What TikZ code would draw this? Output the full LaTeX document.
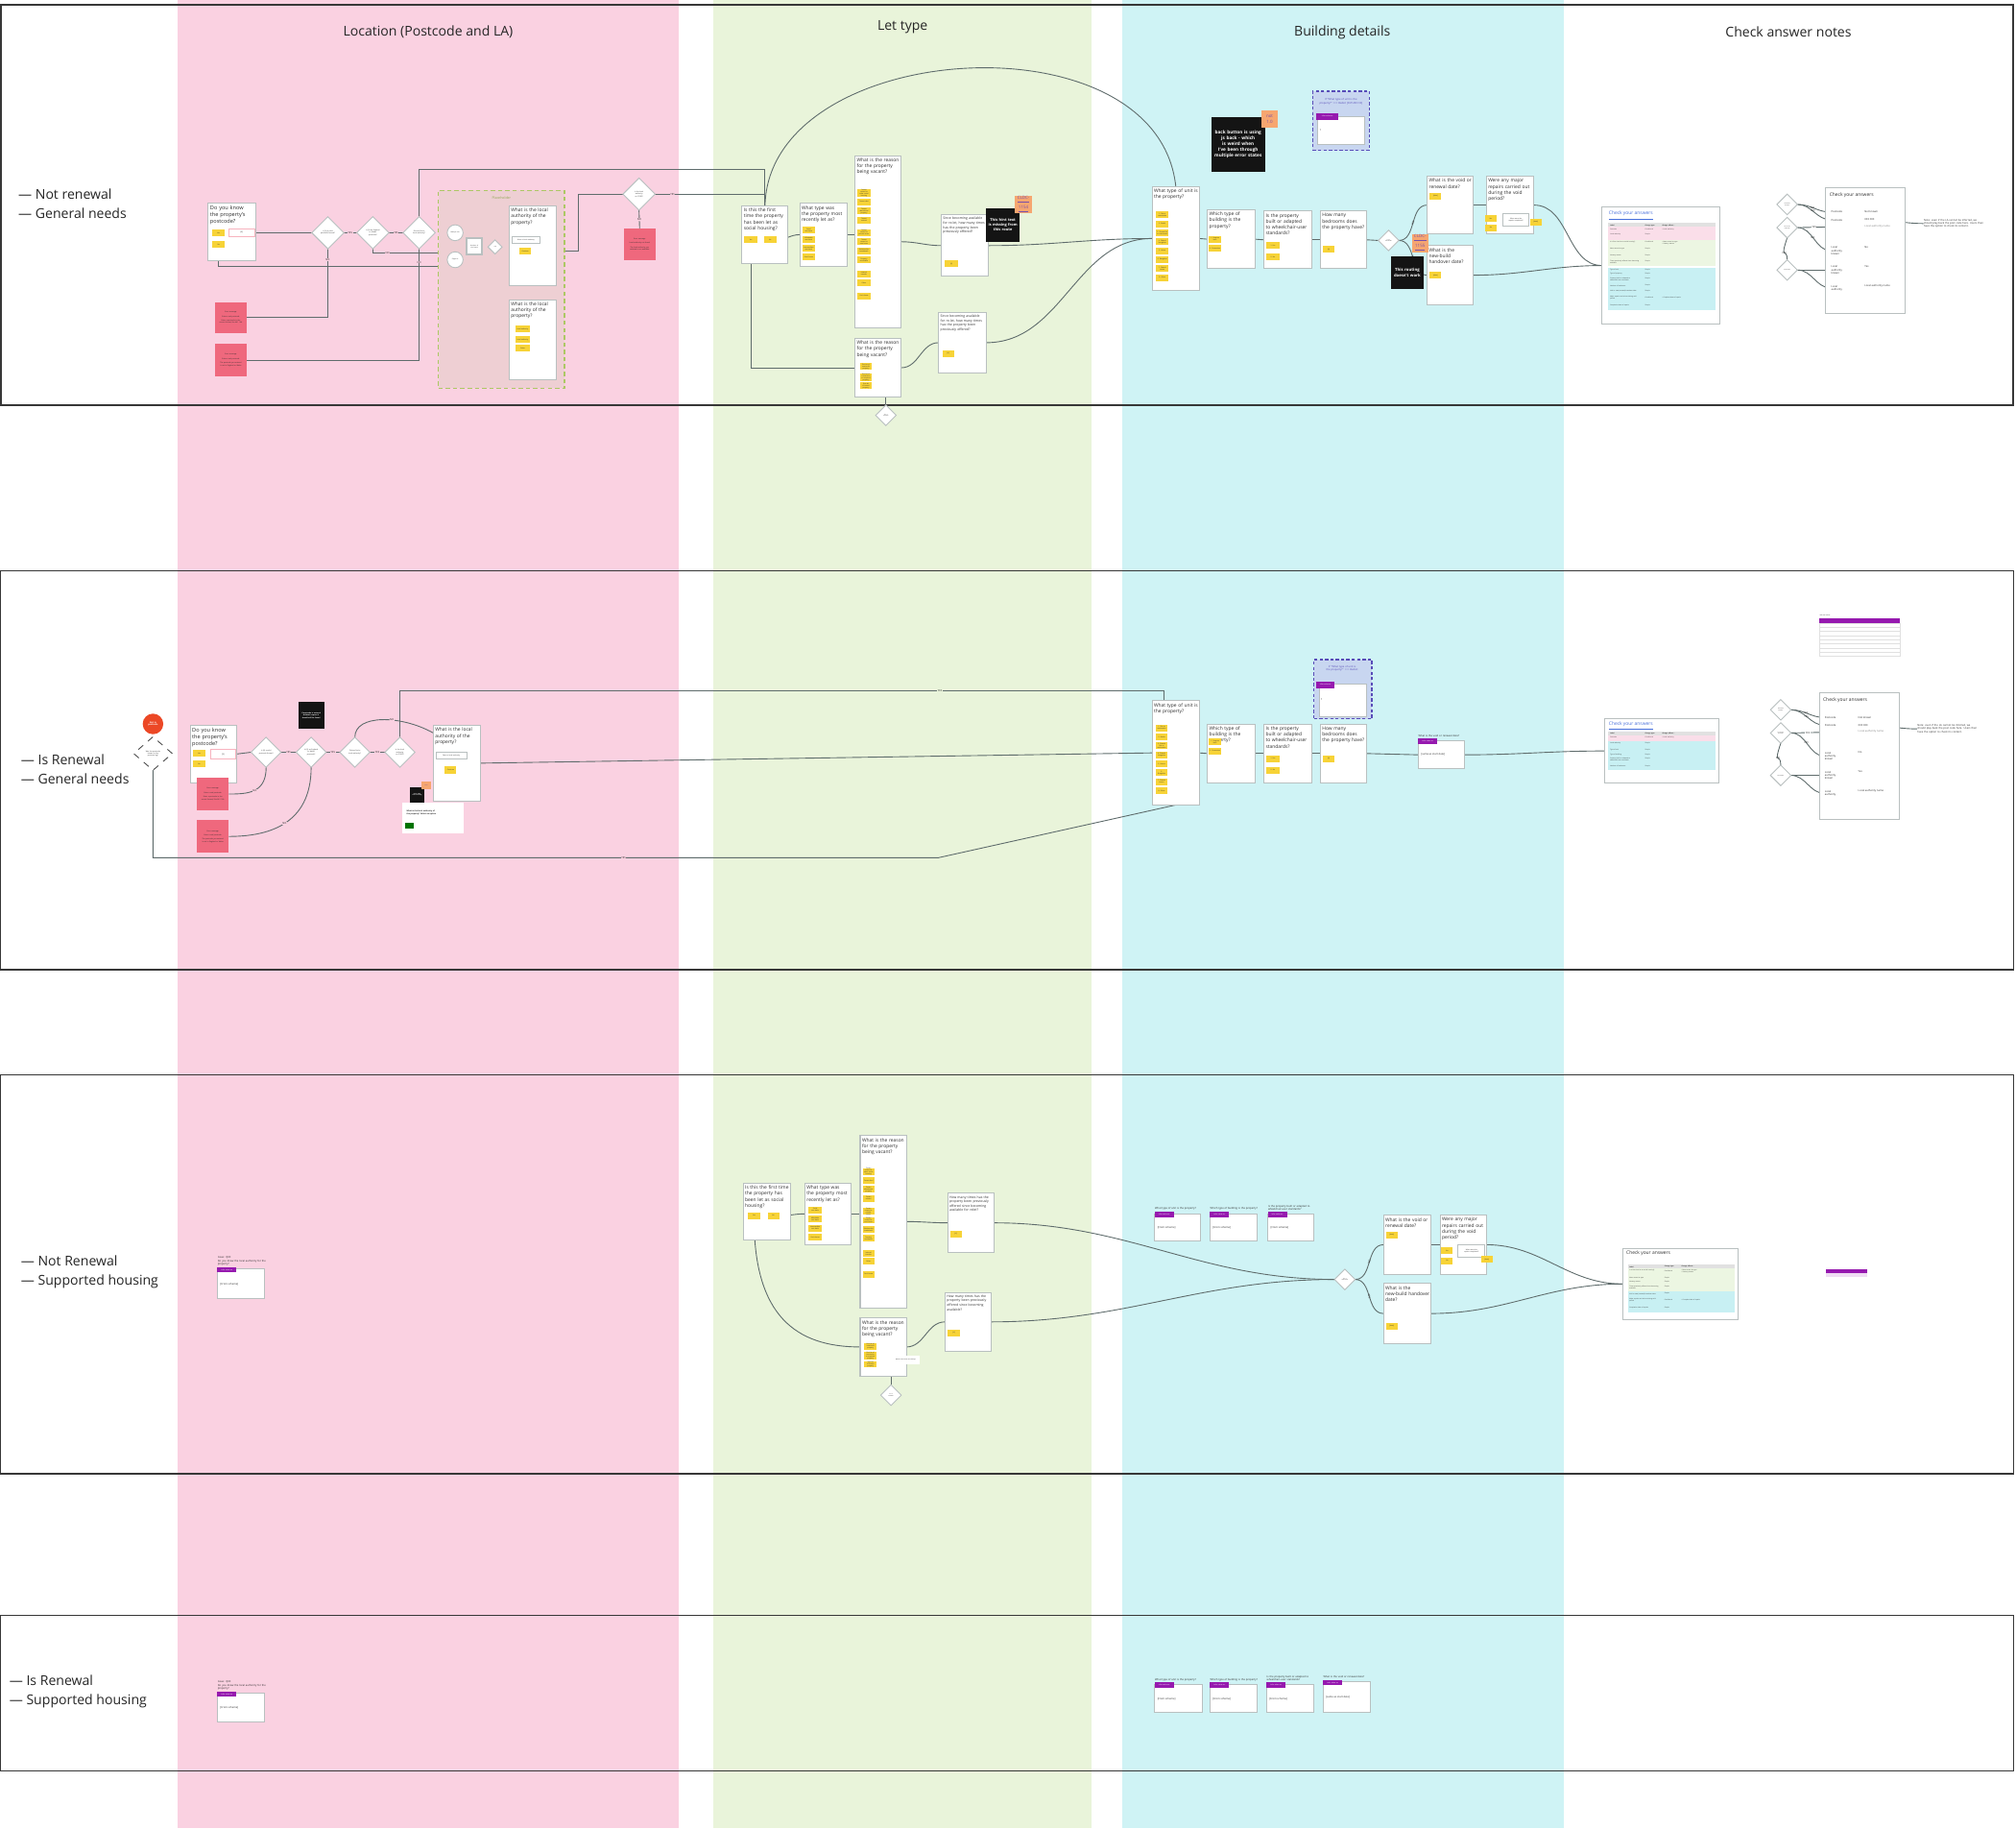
\documentclass[tikz,border=0pt]{standalone}
\usepackage{fontspec}
\setmainfont{Open Sans}
\usetikzlibrary{shapes.geometric,calc}
\hyphenpenalty=10000
\exhyphenpenalty=10000
\definecolor{pinkbg}{RGB}{250,209,225}
\definecolor{greenbg}{RGB}{233,244,218}
\definecolor{cyanbg}{RGB}{207,243,245}
\definecolor{phfill}{RGB}{238,207,211}
\definecolor{phdash}{RGB}{172,200,100}
\definecolor{stky}{RGB}{247,211,55}
\definecolor{stkr}{RGB}{239,104,125}
\definecolor{stko}{RGB}{246,166,112}
\definecolor{stkb}{RGB}{20,20,20}
\definecolor{purp}{RGB}{150,25,175}
\definecolor{ppfill}{RGB}{200,214,240}
\definecolor{ppdash}{RGB}{88,76,184}
\definecolor{boxg}{RGB}{185,192,192}
\definecolor{lineg}{RGB}{95,108,108}
\definecolor{framec}{RGB}{55,55,55}
\definecolor{txt}{RGB}{45,45,45}
\definecolor{cyablue}{RGB}{70,110,220}
\definecolor{tpink}{RGB}{250,222,233}
\definecolor{tgreen}{RGB}{236,246,226}
\definecolor{tcyan}{RGB}{200,240,243}
\definecolor{thead}{RGB}{225,225,225}
\definecolor{startred}{RGB}{236,72,38}
\definecolor{cldc}{RGB}{120,80,170}
\pgfdeclarelayer{back}
\pgfdeclarelayer{lines}
\pgfsetlayers{back,lines,main}
\tikzset{
  qboxs/.style={draw=boxg, fill=white, line width=0.45pt},
  qtext/.style={inner sep=0pt, outer sep=0pt, align=left, text=txt, font=\fontsize{2.2}{2.8}\selectfont},
  smallq/.style={font=\fontsize{1.55}{2.05}\selectfont},
  stkY/.style={fill=stky, text=txt, font=\fontsize{0.75}{0.9}\selectfont},
  redstk/.style={fill=stkr, text=txt, font=\fontsize{0.8}{1.0}\selectfont},
  blkstk/.style={fill=stkb, text=white, font=\fontsize{2.1}{2.7}\selectfont\bfseries},
  orgstk/.style={fill=stko, text=cldc, font=\fontsize{2}{2.6}\selectfont},
  inp/.style={fill=white, draw=stkr!50, line width=0.3pt, text=txt, font=\fontsize{0.9}{1}\selectfont},
  inpg/.style={fill=white, draw=boxg, line width=0.4pt, text=txt, font=\fontsize{0.75}{0.9}\selectfont},
  dia/.style={diamond, draw=boxg, fill=white, line width=0.4pt, inner sep=0pt, outer sep=0pt, minimum width=15pt, minimum height=15pt, text width=7pt, align=center, text=txt, font=\fontsize{0.8}{1}\selectfont},
  sdia/.style={dia, minimum width=9.6pt, minimum height=9.6pt, text width=4pt, font=\fontsize{0.6}{0.75}\selectfont},
  circs/.style={circle, draw=boxg, fill=white, line width=0.4pt, inner sep=0pt, minimum size=7.4pt, text width=5pt, align=center, text=txt, font=\fontsize{0.7}{0.85}\selectfont},
  conn/.style={draw=lineg, line width=0.4pt},
  lbl/.style={inner sep=0.2pt, text=txt, font=\fontsize{1.2}{1.4}\selectfont},
  hdr/.style={inner sep=0pt, text=black!85, font=\fontsize{6.3}{8}\selectfont},
  rowl/.style={inner sep=0pt, anchor=west, align=left, text=black!85, font=\fontsize{6.3}{9}\selectfont},
  rowframe/.style={draw=framec, line width=0.6pt},
  ptag/.style={fill=purp, text=white, font=\fontsize{0.8}{0.9}\selectfont},
  tinyt/.style={inner sep=0pt, text=txt, align=left, font=\fontsize{1.2}{1.5}\selectfont},
  tbt/.style={inner sep=0pt, text=txt, align=left, font=\fontsize{0.7}{0.85}\selectfont},
  cyr/.style={inner sep=0pt, anchor=west, align=left, text=txt, font=\fontsize{1.2}{1.5}\selectfont},
  cyat/.style={inner sep=0pt, text=cyablue, font=\fontsize{2.2}{2.6}\selectfont},
}
% generic rectangle: [style]{name}{x1}{y1}{x2}{y2}{text}
\newcommand\mrb[7][]{%
  \pgfmathsetmacro\zzw{(#5-#3)*0.6}%
  \pgfmathsetmacro\zzh{(#6-#4)*0.6}%
  \pgfmathsetmacro\zzt{max((#5-#3)*0.6-1,0.5)}%
  \node[inner sep=0pt, outer sep=0pt, anchor=north west, minimum width=\zzw pt, minimum height=\zzh pt, text width=\zzt pt, align=center, #1] (#2) at (#3,#4) {#7};}
% question box with top-left text
\newcommand\mqb[7][]{%
  \mrb[qboxs]{#2}{#3}{#4}{#5}{#6}{}%
  \pgfmathsetmacro\zzqt{(#5-#3-2.5)*0.6}%
  \pgfmathsetmacro\zzqx{#3+1.5}\pgfmathsetmacro\zzqy{#4+2}%
  \node[qtext, #1, anchor=north west, text width=\zzqt pt] (#2t) at (\zzqx,\zzqy) {#7};}
% sticky: {name}{x1}{ycentre}{x2}{text}
\newcommand\mstk[5]{%
  \pgfmathsetmacro\zzsa{#3-2.6}\pgfmathsetmacro\zzsb{#3+2.6}%
  \mrb[stkY]{#1}{#2}{\zzsa}{#4}{\zzsb}{#5}}
% table row
\newcommand\mtrow[9]{%
  \mrb[fill=#6]{#1}{#2}{#3}{#4}{#5}{}%
  \pgfmathsetmacro\zzca{#2+1}%
  \pgfmathsetmacro\zzcb{#2+0.34*(#4-#2)}%
  \pgfmathsetmacro\zzcc{#2+0.5*(#4-#2)}%
  \pgfmathsetmacro\zzcy{#3+0.5}%
  \node[tbt, text width=14pt, anchor=north west] (#1a) at (\zzca,\zzcy) {#7};%
  \node[tbt, text width=6pt, anchor=north west] (#1b) at (\zzcb,\zzcy) {#8};%
  \node[tbt, text width=19pt, anchor=north west] (#1c) at (\zzcc,\zzcy) {#9};}
% inferred value box
\newcommand\minfer[7]{%
  \mrb[qboxs]{#1}{#2}{#3}{#4}{#5}{}%
  \pgfmathsetmacro\zzA{#3-1.5}\pgfmathsetmacro\zzB{#3+2.5}\pgfmathsetmacro\zzC{#2+15}%
  \mrb[ptag]{#1g}{#2}{\zzA}{\zzC}{\zzB}{Infer value as:}%
  \pgfmathsetmacro\zzD{#3-2.5}\pgfmathsetmacro\zzE{#2+2}\pgfmathsetmacro\zzF{(#3+#5)/2}%
  \node[tinyt, anchor=south west, text width=24pt] (#1l) at (#2,\zzD) {#6};%
  \node[tinyt, anchor=west] (#1v) at (\zzE,\zzF) {#7};}
% second check-your-answers block
\newcommand\mcheck[3]{%
\begin{scope}[shift={(#2,#3)}]
  \mrb[qboxs]{#1box}{1420}{146}{1482}{244}{}
  \node[qtext, anchor=north west] (#1tt) at (1423,150) {Check your answers};
  \node[cyr] (#1k1) at (1424,165) {Postcode};
  \node[cyr] (#1v1) at (1450,165) {Not known};
  \node[cyr] (#1k2) at (1424,171) {Postcode};
  \node[cyr] (#1v2) at (1450,171) {XXX XXX};
  \node[cyr, text=txt!60] (#1v3) at (1450,176) {Local authority name};
  \node[cyr] (#1k4) at (1424,195) {Local\\authority\\known};
  \node[cyr] (#1v4) at (1450,192) {No};
  \node[cyr] (#1k5) at (1424,210) {Local\\authority\\known};
  \node[cyr] (#1v5) at (1450,207) {Yes};
  \node[cyr] (#1k6) at (1424,224) {Local\\authority};
  \node[cyr] (#1v6) at (1450,222) {Local authority name};
  \node[cyr, anchor=north west, text width=28pt] (#1nt) at (1496,170) {Note: even if the LA cannot be inferred, we should play back the post code here. Users then have the option to check its content.};
  \node[sdia] (#1q1) at (1390,159) {Postcode known?};
  \node[sdia] (#1q2) at (1390,177) {LA can be inferred?};
  \node[sdia] (#1q3) at (1390,210) {LA known?};
  \begin{pgfonlayer}{lines}
  \draw[conn] (#1q1.east) to[out=0,in=180] node[lbl,pos=0.45] (#1l1) {NO} (#1k1.west);
  \draw[conn] (#1q1.east) to[out=0,in=180] node[lbl,pos=0.45] (#1l2) {YES} (#1k2.west);
  \draw[conn] (#1q2.east) -- node[lbl,fill=white,pos=0.25] (#1l3) {YES} (#1v3.west);
  \draw[conn] (#1q2.east) to[out=0,in=180] node[lbl,pos=0.45] (#1l4) {NO} (#1k4.west);
  \draw[conn] (#1q2.south) .. controls ($(#1q2.south)+(-6,18)$) and ($(#1q3.north)+(0,-10)$) .. node[lbl,pos=0.5] (#1l5) {NO} (#1q3.north);
  \draw[conn] (#1q3.east) to[out=0,in=180] (#1k5.west);
  \draw[conn] (#1q3.east) to[out=0,in=180] (#1k6.west);
  \draw[conn] (#1v2.east) to[out=0,in=180] (#1nt.west);
  \end{pgfonlayer}
\end{scope}}
\begin{document}
\begin{tikzpicture}[x=0.6pt,y=-0.6pt]
\useasboundingbox (0,0) rectangle (1568,1422);
\begin{pgfonlayer}{back}
\fill[white] (0,0) rectangle (1568,1422);
\fill[pinkbg] (138,0) rectangle (528,1422);
\fill[greenbg] (555,0) rectangle (849,1422);
\fill[cyanbg] (873,0) rectangle (1216,1422);
\draw[rowframe, line width=0.9pt] (0.6,4) rectangle (1566,315);
\draw[rowframe] (0.6,444) rectangle (1566,754);
\draw[rowframe] (0.6,836) rectangle (1566,1146);
\draw[rowframe] (0.6,1256) rectangle (1566,1377);
\end{pgfonlayer}

% headers and row labels
\node[hdr] (h1) at (333,25) {Location (Postcode and LA)};
\node[hdr] (h2) at (702,21) {Let type};
\node[hdr] (h3) at (1044,25) {Building details};
\node[hdr] (h4) at (1391,25) {Check answer notes};
\node[rowl] (l1) at (14,158.5) {— Not renewal\\— General needs};
\node[rowl] (l2) at (16,598) {— Is Renewal\\— General needs};
\node[rowl] (l3) at (16,989.5) {— Not Renewal\\— Supported housing};
\node[rowl] (l4) at (7,1315.5) {— Is Renewal\\— Supported housing};

%================ ROW 1 =================
\mrb[draw=phdash, fill=phfill, line width=0.5pt, dash pattern=on 2pt off 1.4pt]{r1ph}{341}{148}{439}{302}{}
\node[inner sep=0pt, text=phdash!85!black, font=\fontsize{1.6}{2}\selectfont] (r1phl) at (390,154) {Placeholder};
\mqb[font=\fontsize{2.5}{3.1}\selectfont]{r1pc}{162}{158}{199}{203}{Do you know the property's postcode?}
\mstk{r1pcY}{165}{181}{175}{Yes}
\mrb[inp]{r1pcX}{178}{178}{198}{184}{[X]}
\mstk{r1pcN}{165}{190}{175}{No}
\node[dia] (r1d1) at (255,181) {Is [X] a valid postcode format?};
\node[dia] (r1d2) at (290,181) {Is [X] an England or Wales postcode?};
\node[dia] (r1d3) at (326,181) {Did we find a local authority?};
\mrb[redstk]{r1e1}{167}{235}{192}{259}{Error message\\[1pt]Enter a real postcode\\[1pt]Enter a postcode in the correct format, like AA1 1AA}
\mrb[redstk]{r1e2}{167}{267}{192}{293}{Error message\\[1pt]Enter a real postcode\\[1pt]The postcode you entered is not in England or Wales}
\node[circs] (r1c1) at (354,181) {Multiple LAs};
\node[circs] (r1c2) at (354,202) {Single LA};
\mrb[draw=boxg, fill=white, line width=0.8pt, text=txt, font=\fontsize{0.7}{0.85}\selectfont]{r1sr}{363}{185}{375}{198}{Number of LAs found}
\node[dia, minimum width=6.6pt, minimum height=6.6pt, text width=3pt, font=\fontsize{0.6}{0.7}\selectfont] (r1d4) at (385,192) {1 LA?};
\mqb{r1la1}{396}{160}{433}{222}{What is the local authority of the property?}
\mrb[inpg]{r1la1i}{398}{184}{420}{189}{Select a local authority}
\mrb[stkY]{r1la1c}{404}{193}{413}{198}{Continue}
\mqb{r1la2}{396}{233}{433}{295}{What is the local authority of the property?}
\mstk{r1la2a}{401}{256}{412}{Local authority}
\mstk{r1la2b}{401}{264}{412}{Local authority}
\mstk{r1la2c}{401}{271}{412}{Other}
\node[dia] (r1d5) at (497,151) {Is the local authority on CORE?};
\mrb[redstk]{r1e3}{485}{178}{510}{202}{Error message\\[1pt]Local authority not found\\[1pt]The local authority you selected is not available}

\mqb{r1ft}{577}{160}{613}{205}{Is this the first time the property has been let as social housing?}
\mstk{r1ftY}{579}{186.5}{589}{Yes}
\mstk{r1ftN}{594}{186.5}{604}{No}
\mqb{r1rl}{622}{158}{659}{207}{What type was the property most recently let as?}
\foreach \yc/\lt [count=\i] in {179/Social rent basis,186/Affordable rent basis,193/Intermediate rent basis,200/Don't know} {\mstk{r1rls\i}{624}{\yc}{634}{\lt}}
\mqb{r1rv}{665}{121}{701}{255}{What is the reason for the property being vacant?}
\foreach \yc/\lt [count=\i] in {150/Tenant moved to other social housing,157/Tenant died,164/Tenant abandoned property,171/Tenant evicted,181/Tenant moved to private sector,188/Tenant moved to care home,195/Relationship breakdown,202/Property unsuitable,213/Internal transfer,220/Other,230/Don't know} {\mstk{r1rvs\i}{667}{\yc}{677}{\lt}}
\mqb[smallq]{r1of}{732}{167}{769}{215}{Since becoming available for re-let, how many times has the property been previously offered?}
\mstk{r1ofX}{735}{205}{745}{[X]}
\mrb[blkstk, font=\fontsize{1.75}{2.3}\selectfont\bfseries]{r1bk1}{767}{162}{793}{188}{This hint text is missing from this route}
\mrb[orgstk]{r1or1}{789}{152}{803}{166}{\underline{CLDC-}\\\underline{1154}}
\mqb{r1rv2}{665}{263}{701}{309}{What is the reason for the property being vacant?}
\mstk{r1rv2s1}{669}{285}{678}{First let of new-build property}
\mstk{r1rv2s2}{669}{293}{678}{First let of conversion or acquired property}
\mstk{r1rv2s3}{669}{300}{678}{First let of leased property}
\mqb[smallq]{r1of2}{730}{243}{767}{290}{Since becoming available for re-let, how many times has the property been previously offered?}
\mstk{r1of2X}{733}{275}{742}{[X]}
\node[sdia] (r1d6) at (689,323) {Is it a renewal?};

\mqb{r1ut}{896}{145}{933}{226}{What type of unit is the property?}
\foreach \yc/\lt [count=\i] in {167/1. Flat or maisonette,174/2. Bedsit,181/3. Shared flat or maisonette,188/4. Shared bungalow,195/5. House,202/6. Bungalow,209/7. Shared house,216/8. Other} {\mstk{r1uts\i}{899}{\yc}{909}{\lt}}
\mqb{r1bt}{939}{163}{976}{209}{Which type of building is the property?}
\mstk{r1bts1}{940}{186}{950}{1. Purpose built}
\mstk{r1bts2}{940}{193}{950}{2. Conversion}
\mqb{r1wc}{983}{164}{1020}{209}{Is the property built or adapted to wheelchair-user standards?}
\mstk{r1wcs1}{985}{191}{995}{1. Yes}
\mstk{r1wcs2}{985}{200}{995}{2. No}
\mqb{r1bd}{1027}{164}{1063}{209}{How many bedrooms does the property have?}
\mstk{r1bds1}{1029}{194}{1038}{[X]}
\node[sdia] (r1d7) at (1080,187) {Is it a new-build?};
\mqb{r1vd}{1110}{137}{1146}{182}{What is the void or renewal date?}
\mstk{r1vds}{1112}{152.5}{1121}{[date]}
\mqb{r1mr}{1156}{137}{1193}{182}{Were any major repairs carried out during the void period?}
\mstk{r1mrY}{1155}{170}{1164}{Yes}
\mstk{r1mrN}{1155}{177}{1164}{No}
\mrb[inpg]{r1mrq}{1169}{166}{1189}{176}{When were the repairs completed?}
\mstk{r1mrd}{1190}{172.5}{1199}{[date]}
\mqb{r1nb}{1110}{191}{1146}{237}{What is the new-build handover date?}
\mstk{r1nbs}{1112}{214}{1121}{[date]}
\mrb[blkstk]{r1bk2}{942}{91}{984}{134}{back button is using js back - which is weird when I've been through multiple error states}
\mrb[orgstk]{r1or2}{981}{86}{994}{99}{not\\1.0}
\mrb[draw=ppdash, fill=ppfill, line width=0.6pt, dash pattern=on 1.5pt off 1pt]{r1pp}{1021}{71}{1065}{117}{}
\node[inner sep=0pt, text width=24pt, align=center, text=ppdash, font=\fontsize{1.2}{1.6}\selectfont] (r1ppt) at (1043,79) {If ``What type of unit is the property?'' === Bedsit [FUTURE FIX]};
\mrb[inpg]{r1ppb}{1025}{91}{1061}{112}{}
\mrb[ptag]{r1ppg}{1024}{88}{1041}{93}{Infer value as:}
\node[tinyt] (r1pp1) at (1027,101) {1};
\mrb[blkstk, font=\fontsize{1.9}{2.5}\selectfont\bfseries]{r1bk3}{1082}{199}{1107}{225}{This routing doesn't work}
\mrb[orgstk]{r1or3}{1098}{182}{1111}{196}{\underline{CLDC-}\\\underline{1155}}

\mrb[qboxs]{r1cya}{1246}{161}{1338}{252}{}
\node[cyat, anchor=north west] (r1cyat) at (1251,164) {\underline{Check your answers}};
\mtrow{r1th}{1251}{173.5}{1334}{176.5}{thead}{\textbf{Label}}{\textbf{Change type}}{\textbf{Change affects...}}
\mtrow{r1ta}{1251}{176.5}{1334}{180.7}{tpink}{Postcode}{Conditional}{• Local authority}
\mtrow{r1tb}{1251}{180.7}{1334}{186.7}{tpink}{Local authority}{Simple}{}
\mtrow{r1tc}{1251}{186.7}{1334}{192}{tgreen}{Is it first time let as social housing?}{Conditional}{• Most recent let type\\• Vacancy reason}
\mtrow{r1td}{1251}{192}{1334}{197}{tgreen}{Most recent let type}{Simple}{}
\mtrow{r1te}{1251}{197}{1334}{201.5}{tgreen}{Vacancy reason}{Simple}{}
\mtrow{r1tf}{1251}{201.5}{1334}{206.6}{tgreen}{Times previously offered since becoming available}{Simple}{}
\mtrow{r1tg}{1251}{208.4}{1334}{211.5}{tcyan}{Type of unit}{Simple}{}
\mtrow{r1ti}{1251}{211.5}{1334}{215}{tcyan}{Type of property}{Simple}{}
\mtrow{r1tj}{1251}{215}{1334}{220.5}{tcyan}{Property built or adapted to wheelchair-user standards}{Simple}{}
\mtrow{r1tk}{1251}{220.5}{1334}{224.5}{tcyan}{Number of bedrooms}{Simple}{}
\mtrow{r1tl}{1251}{224.5}{1334}{229.5}{tcyan}{Void or new (renewal) handover date}{Simple}{}
\mtrow{r1tm}{1251}{229.5}{1334}{235.5}{tcyan}{Major repairs carried out during void period}{Conditional}{• Complete date of repairs}
\mtrow{r1tn}{1251}{235.5}{1334}{241.2}{tcyan}{Completion date of repairs}{Simple}{}
\mcheck{r1c}{0}{0}

%================ ROW 2 =================
\node[circle, fill=startred, inner sep=0pt, minimum size=9.6pt, text width=6pt, align=center, text=white, font=\fontsize{1}{1.2}\selectfont\bfseries] (r2st) at (119,563) {Not in postcode};
\node[dia, dashed, draw=black!70, minimum width=18pt, minimum height=15.6pt, text width=8pt] (r2dd) at (119,586) {Was the postcode known in the previous log?};
\mqb[font=\fontsize{2.5}{3.1}\selectfont]{r2pc}{148}{564}{184}{609}{Do you know the property's postcode?}
\mstk{r2pcY}{150}{586}{160}{Yes}
\mrb[inp]{r2pcX}{164}{583}{183}{590}{[X]}
\mstk{r2pcN}{150}{594}{160}{No}
\mrb[redstk]{r2e1}{153}{605}{178}{630}{Error message\\[1pt]Enter a real postcode\\[1pt]Enter a postcode in the correct format, like AA1 1AA}
\mrb[redstk]{r2e2}{153}{638}{178}{663}{Error message\\[1pt]Enter a real postcode\\[1pt]The postcode you entered is not in England or Wales}
\node[dia, minimum width=14pt, minimum height=14pt] (r2d1) at (207,585) {Is [X] a valid postcode format?};
\node[dia, minimum width=14pt, minimum height=14pt] (r2d2) at (242,585) {Is [X] an England or Wales postcode?};
\node[dia, minimum width=14pt, minimum height=14pt] (r2d3) at (276,585) {Did we find a local authority?};
\node[dia, minimum width=14pt, minimum height=14pt] (r2d4) at (311,585) {Is the local authority on CORE?};
\mrb[blkstk, font=\fontsize{0.8}{1}\selectfont\bfseries]{r2bk1}{232}{546}{252}{567}{If postcode is entered without a space it should still be found}
\mqb{r2la}{337}{564}{374}{623}{What is the local authority of the property?}
\mrb[inpg]{r2lai}{339}{585}{363}{590}{Select a local authority}
\mrb[stkY]{r2lac}{346}{596}{355}{602}{Continue}
\mrb[fill=white]{r2ss}{313}{624}{361}{648}{}
\node[tinyt, anchor=north west, font=\fontsize{0.9}{1.1}\selectfont\bfseries] (r2sst) at (316,630) {What is the local authority of\\the property? Select an option};
\mrb[fill=green!45!black]{r2ssb}{315}{640}{322}{644}{}
\mrb[blkstk, font=\fontsize{0.6}{0.75}\selectfont\bfseries]{r2bk2}{319}{612}{330}{624}{Error state text is missing}
\mrb[orgstk, font=\fontsize{0.6}{0.75}\selectfont]{r2or}{328}{608}{335}{614}{CLDC}

\mqb{r2ut}{896}{545}{933}{626}{What type of unit is the property?}
\foreach \yc/\lt [count=\i] in {566/1. Flat or maisonette,573/2. Bedsit,580/3. Shared flat or maisonette,587/4. Shared bungalow,594/5. House,601/6. Bungalow,608/7. Shared house,615/8. Other} {\mstk{r2uts\i}{899}{\yc}{908}{\lt}}
\mqb{r2bt}{939}{563}{976}{609}{Which type of building is the property?}
\mstk{r2bts1}{940}{577}{950}{1. Purpose built}
\mstk{r2bts2}{940}{584}{950}{2. Conversion}
\mqb{r2wc}{983}{563}{1020}{609}{Is the property built or adapted to wheelchair-user standards?}
\mstk{r2wcs1}{985}{590}{995}{1. Yes}
\mstk{r2wcs2}{985}{599}{995}{2. No}
\mqb{r2bd}{1027}{563}{1063}{609}{How many bedrooms does the property have?}
\mstk{r2bds1}{1029}{590}{1038}{[X]}
\mrb[draw=ppdash, fill=ppfill, line width=0.6pt, dash pattern=on 1.5pt off 1pt]{r2pp}{1022}{513}{1067}{559}{}
\node[inner sep=0pt, text width=24pt, align=center, text=ppdash, font=\fontsize{1.2}{1.6}\selectfont] (r2ppt) at (1044,520) {If ``What type of unit is the property?'' === Bedsit:};
\mrb[inpg]{r2ppb}{1026}{532}{1063}{557}{}
\mrb[ptag]{r2ppg}{1024}{530}{1038}{535}{Infer value as:}
\node[tinyt] (r2pp1) at (1028,544) {1};
\minfer{r2vd}{1103}{576}{1139}{598}{What is the void or renewal date?}{[same as start date]}

\mrb[qboxs]{r2cya}{1248}{559}{1337}{609}{}
\node[cyat, anchor=north west] (r2cyat) at (1251,561) {\underline{Check your answers}};
\mtrow{r2th}{1251}{569}{1334}{572}{thead}{\textbf{Label}}{\textbf{Change type}}{\textbf{Change affects...}}
\mtrow{r2ta}{1251}{572}{1334}{576.5}{tpink}{Postcode}{Conditional}{• Local authority}
\mtrow{r2tb}{1251}{576.5}{1334}{581.5}{tcyan}{Local authority}{Simple}{}
\mtrow{r2tc}{1251}{581.5}{1334}{585}{tcyan}{Type of unit}{Simple}{}
\mtrow{r2td}{1251}{585}{1334}{588.5}{tcyan}{Type of building}{Simple}{}
\mtrow{r2te}{1251}{588.5}{1334}{594}{tcyan}{Property built or adapted to wheelchair-user standards}{Simple}{}
\mtrow{r2tf}{1251}{594}{1334}{599}{tcyan}{Number of bedrooms}{Simple}{}
\node[tinyt, font=\fontsize{0.7}{0.8}\selectfont, anchor=south west] (r2ptl) at (1415,480) {Inferred values};
\mrb[fill=purp]{r2pth}{1415}{481}{1478}{484.5}{}
\foreach \k in {1,...,8} {\pgfmathsetmacro\zzG{484.5+3.2*\k}\node[draw=black!12, line width=0.2pt, inner sep=0pt, minimum width=37.8pt, minimum height=1.92pt, anchor=north west] (r2ptr\k) at (1415,\zzG-3.2) {};}
\mcheck{r2c}{-5}{393}

%================ ROW 3 =================
\minfer{r3la}{169}{987}{206}{1010}{Issue: QXX\\Do you know the local authority for the property?}{[From scheme]}
\mqb{r3ft}{578}{920}{615}{964}{Is this the first time the property has been let as social housing?}
\mstk{r3ftY}{582}{945.5}{591}{Yes}
\mstk{r3ftN}{597}{945.5}{606}{No}
\mqb{r3rl}{626}{920}{662}{968}{What type was the property most recently let as?}
\foreach \yc/\lt [count=\i] in {941/Social rent basis,948/Affordable rent basis,955/Intermediate rent basis,962/Don't know} {\mstk{r3rls\i}{629}{\yc}{639}{\lt}}
\mqb{r3rv}{669}{883}{705}{1017}{What is the reason for the property being vacant?}
\foreach \yc/\lt [count=\i] in {911/Tenant moved to other social housing,918/Tenant died,925/Tenant abandoned property,932/Tenant evicted,942/Tenant moved to private sector,949/Tenant moved to care home,956/Relationship breakdown,963/Property unsuitable,975/Internal transfer,981/Other,991/Don't know} {\mstk{r3rvs\i}{671}{\yc}{680}{\lt}}
\mqb[smallq]{r3of}{737}{928}{773}{974}{How many times has the property been previously offered since becoming available for relet?}
\mstk{r3ofX}{739}{959.5}{748}{[X]}
\mqb{r3rv2}{669}{1025}{705}{1070}{What is the reason for the property being vacant?}
\mstk{r3rv2s1}{672}{1047}{682}{First let of new-build property}
\mstk{r3rv2s2}{672}{1054}{682}{First let of conversion or acquired property}
\mstk{r3rv2s3}{672}{1061}{682}{First let of leased property}
\mrb[fill=white, font=\fontsize{0.6}{0.7}\selectfont, text=black]{r3ss}{694}{1054}{715}{1061}{Which is the reason for vacancy?}
\mqb[smallq]{r3of2}{735}{1005}{771}{1051}{How many times has the property been previously offered since becoming available?}
\mstk{r3of2X}{737}{1036.5}{747}{[X]}
\node[sdia] (r3d6) at (693,1085) {Is it a renewal?};
\minfer{r3a}{898}{944}{934}{965}{What type of unit is the property?}{[From scheme]}
\minfer{r3b}{941}{944}{978}{965}{Which type of building is the property?}{[From scheme]}
\minfer{r3c}{986}{944}{1022}{965}{Is the property built or adapted to wheelchair-user standards?}{[From scheme]}
\node[sdia] (r3d7) at (1046,995) {Is it a new-build?};
\mqb{r3vd}{1076}{945}{1113}{991}{What is the void or renewal date?}
\mstk{r3vds}{1078}{960.5}{1087}{[date]}
\mqb{r3mr}{1120}{945}{1156}{991}{Were any major repairs carried out during the void period?}
\mstk{r3mrY}{1121}{972.5}{1130}{Yes}
\mstk{r3mrN}{1121}{980.5}{1130}{No}
\mrb[inpg]{r3mrq}{1134}{968}{1155}{978}{When were the repairs completed?}
\mstk{r3mrd}{1152}{979.5}{1161}{[date]}
\mqb{r3nb}{1076}{998}{1113}{1045}{What is the new-build handover date?}
\mstk{r3nbs}{1078}{1031.5}{1087}{[date]}
\mrb[qboxs]{r3cya}{1262}{971}{1352}{1026}{}
\node[qtext, anchor=north west] (r3cyat) at (1265,973) {Check your answers};
\mtrow{r3th}{1266}{983.5}{1349}{986.5}{thead}{\textbf{Label}}{\textbf{Change type}}{\textbf{Change affects...}}
\mtrow{r3ta}{1266}{986.5}{1349}{992}{tgreen}{Is it first time let as social housing?}{Conditional}{• Most recent let type\\• Vacancy reason}
\mtrow{r3tb}{1266}{992}{1349}{995.5}{tgreen}{Most recent let type}{Simple}{}
\mtrow{r3tc}{1266}{995.5}{1349}{999}{tgreen}{Vacancy reason}{Simple}{}
\mtrow{r3td}{1266}{999}{1349}{1004.5}{tgreen}{Times previously offered since becoming available}{Simple}{}
\mtrow{r3te}{1266}{1004.5}{1349}{1009}{tcyan}{Void or new (renewal) handover date}{Simple}{}
\mtrow{r3tf}{1266}{1009}{1349}{1015}{tcyan}{Major repairs carried out during void period}{Conditional}{• Complete date of repairs}
\mtrow{r3tg}{1266}{1015}{1349}{1021}{tcyan}{Completion date of repairs}{Simple}{}
\mrb[fill=purp]{r3pb}{1420}{987}{1452}{990}{}
\mrb[fill=purp!15]{r3pb2}{1420}{990}{1452}{993}{}

%================ ROW 4 =================
\minfer{r4la}{169}{1317}{206}{1339}{Issue: QXX\\Do you know the local authority for the property?}{[From scheme]}
\minfer{r4a}{898}{1310}{935}{1332}{What type of unit is the property?}{[From scheme]}
\minfer{r4b}{941}{1310}{978}{1332}{Which type of building is the property?}{[From scheme]}
\minfer{r4c}{985}{1310}{1022}{1332}{Is the property built or adapted to wheelchair-user standards?}{[From scheme]}
\minfer{r4d}{1029}{1308}{1066}{1332}{What is the void or renewal date?}{[same as start date]}

%================ CONNECTORS =================
\begin{pgfonlayer}{lines}
\draw[conn] (r1pcY.east) -- (r1pcX.west);
\draw[conn] (r1pcX.east) -- (r1d1.west);
\draw[conn] (r1d1.east) -- node[lbl,fill=pinkbg] (r1y1) {YES} (r1d2.west);
\draw[conn] (r1d2.east) -- node[lbl,fill=pinkbg] (r1y2) {YES} (r1d3.west);
\coordinate (r1topA) at (560,132);
\draw[conn] (r1d3.north) |- (r1topA) -| (r1ft.north);
\draw[conn] (r1e1.east) -| node[lbl,pos=0.92,fill=pinkbg] (r1n1) {NO} (r1d1.south);
\draw[conn] (r1e2.east) -| node[lbl,pos=0.94,fill=pinkbg] (r1n3) {NO} (r1d3.south);
\coordinate (r1j) at (347,197);
\coordinate (r1j2) at (347,207);
\draw[conn] (r1d2.south) |- node[lbl,pos=0.6,fill=pinkbg] (r1n2) {NO} (r1j);
\draw[conn] (r1pcN.south) |- (r1j2) -- (r1j);
\draw[conn] (r1j) |- (r1sr.west);
\draw[conn] (r1c1.south) -- (r1c2.north);
\draw[conn] (r1sr.east) -- (r1d4.west);
\draw[conn] (r1d4.east) -- (r1d4.east -| r1la1.west);
\draw[conn] (r1d4.south) |- (r1la2.west);
\draw[conn] (r1la1i.south) -- (r1la1c.north);
\coordinate (r1k) at (450,195.5);
\draw[conn] (r1la1c.east) -- (r1k) |- (r1d5.west);
\draw[conn] (r1d5.south) -- node[lbl,fill=pinkbg] (r1n4) {NO} (r1e3.north);
\draw[conn] (r1d5.east) -| node[lbl,pos=0.08,fill=pinkbg] (r1y3) {YES} (r1ft.north);
\draw[conn] (r1ft.north) .. controls (598,30) and (900,10) .. (r1ut.north);
\draw[conn] (r1ftY.south) |- (r1rv2.west);
\draw[conn] (r1ftN.east) to[out=0,in=180] (r1rl.west);
\draw[conn] (r1rl.east) -- (r1rl.east -| r1rv.west);
\draw[conn] (r1rv.east) to[out=0,in=180] (r1of.west);
\draw[conn] (r1of.east) to[out=0,in=180] (r1ut.west);
\draw[conn] (r1rv2.east) to[out=0,in=180] (r1of2.west);
\draw[conn] (r1of2.east) to[out=0,in=180] (r1ut.west);
\draw[conn] (r1rv2s1.east) -| (r1d6.north);
\draw[conn] (r1ut.east) -- (r1bt.west);
\draw[conn] (r1bt.east) -- (r1wc.west);
\draw[conn] (r1wc.east) -- (r1bd.west);
\draw[conn] (r1bd.east) -- (r1d7.west);
\draw[conn] (r1d7.east) to[out=0,in=180] node[lbl,sloped,pos=0.5] (r1yv) {NO} (r1vd.west);
\draw[conn] (r1d7.east) to[out=0,in=180] node[lbl,sloped,pos=0.5] (r1yn) {YES} (r1nb.west);
\draw[conn] (r1vd.east) -- (r1vd.east -| r1mr.west);
\draw[conn] (r1mrY.east) -- (r1mrq.west);
\draw[conn] (r1mr.east) to[out=0,in=180] (r1cya.west);
\draw[conn] (r1nb.east) to[out=0,in=180] (r1cya.west);
\draw[conn] (r2pcY.east) -- (r2pcX.west);
\draw[conn] (r2pcX.east) -- (r2d1.west);
\draw[conn] (r2d1.east) -- node[lbl,fill=pinkbg] (r2y1) {YES} (r2d2.west);
\draw[conn] (r2d2.east) -- node[lbl,fill=pinkbg] (r2y2) {YES} (r2d3.west);
\draw[conn] (r2d3.east) -- node[lbl,fill=pinkbg] (r2y3) {YES} (r2d4.west);
\draw[conn] (r2d1.south) .. controls ($(r2d1.south)+(0,20)$) and ($(r2e1.east)+(15,0)$) .. node[lbl,pos=0.5,fill=pinkbg] (r2n1) {NO} (r2e1.east);
\draw[conn] (r2d2.south) .. controls ($(r2d2.south)+(0,45)$) and ($(r2e2.east)+(30,0)$) .. node[lbl,pos=0.5,fill=pinkbg] (r2n2) {NO} (r2e2.east);
\draw[conn] (r2d3.north) .. controls ($(r2d3.north)+(0,-18)$) and ($(r2la.north west)+(-25,-8)$) .. node[lbl,pos=0.6,fill=pinkbg] (r2n3) {NO} ($(r2la.north west)+(0,6)$);
\coordinate (r2top) at (600,537);
\draw[conn] (r2d4.north) |- (r2top) -| ($(r2ut.north west)!0.25!(r2ut.north east)$);
\node[lbl,fill=greenbg] (r2y5) at (731,537) {YES};
\draw[conn] (r2la.east) -- (r2ut.west);
\draw[conn] (r2lai.south) -- (r2lac.north);
\coordinate (r2bot) at (730,667);
\draw[conn] (r2dd.south) |- (r2bot) -- (r2ut.south);
\node[lbl,fill=pinkbg] (r2y6) at (485,667) {YES};
\draw[conn] (r2ut.east) -- (r2bt.west);
\draw[conn] (r2bt.east) -- (r2wc.west);
\draw[conn] (r2wc.east) -- (r2bd.west);
\draw[conn] (r2bd.east) -- (r2vd.west);
\draw[conn] (r2vd.east) to[out=0,in=180] (r2cya.west);
\draw[conn] (r3ftY.south) .. controls ($(r3ftY.south)+(0,75)$) and ($(r3rv2.west)+(-50,0)$) .. (r3rv2.west);
\draw[conn] (r3ftN.east) to[out=0,in=180] (r3rl.west);
\draw[conn] (r3rl.east) -- (r3rl.east -| r3rv.west);
\draw[conn] (r3rv.east) to[out=0,in=180] (r3of.west);
\draw[conn] (r3of.east) to[out=0,in=180] (r3d7.west);
\draw[conn] (r3rv2.east) to[out=0,in=180] (r3of2.west);
\draw[conn] (r3of2.east) to[out=0,in=180] (r3d7.west);
\draw[conn] (r3rv2s1.east) -| (r3d6.north);
\draw[conn] (r3d7.east) to[out=0,in=180] node[lbl,sloped,pos=0.5] (r3yv) {NO} (r3vd.west);
\draw[conn] (r3d7.east) to[out=0,in=180] node[lbl,sloped,pos=0.5] (r3yn) {YES} (r3nb.west);
\draw[conn] (r3vd.east) -- (r3vd.east -| r3mr.west);
\draw[conn] (r3mrY.east) -- (r3mrq.west);
\draw[conn] (r3mr.east) to[out=0,in=180] (r3cya.west);
\draw[conn] (r3nb.east) to[out=0,in=180] (r3cya.west);
\end{pgfonlayer}
\end{tikzpicture}
\end{document}
